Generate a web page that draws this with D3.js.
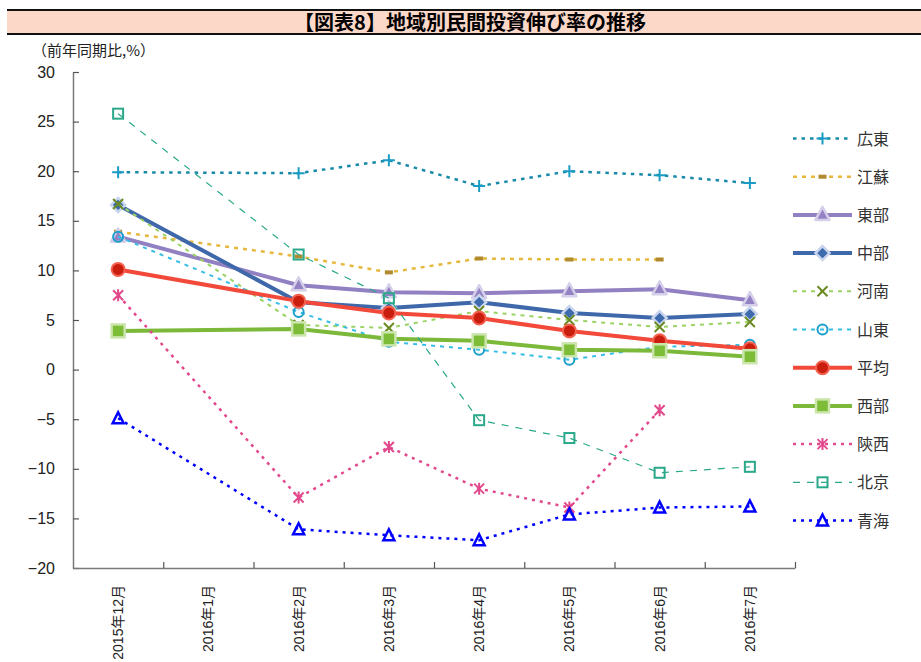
<!DOCTYPE html>
<html>
<head>
<meta charset="utf-8">
<script src="https://cdn.jsdelivr.net/npm/d3@7/dist/d3.min.js"></script>
<style>
  html, body { margin: 0; padding: 0; background: #fff; }
  svg { display: block; }
  .cjk { font-family: "Liberation Sans", "Noto Sans CJK JP", sans-serif; }
</style>
</head>
<body>
<svg id="chart" width="921" height="662"></svg>
<script>
// Months on the category axis (January has no release of its own)
const months = ["2015年12月","2016年1月","2016年2月","2016年3月","2016年4月","2016年5月","2016年6月","2016年7月"];
const yTicks = [-20, -15, -10, -5, 0, 5, 10, 15, 20, 25, 30];

// Year-on-year growth of private investment, %
const guangdong = [19.9, null, 19.8, 21.1, 18.5, 20.0, 19.6, 18.8];
const jiangsu   = [13.9, null, 11.4,  9.8, 11.2, 11.1, 11.1, null];
const eastern   = [13.4, null,  8.5,  7.8,  7.7,  7.9,  8.1,  7.0];
const central   = [16.6, null,  6.8,  6.2,  6.8,  5.7,  5.2,  5.6];
const henan     = [16.7, null,  4.5,  4.2,  5.9,  5.0,  4.3,  4.8];
const shandong  = [13.4, null,  5.8,  2.8,  2.0,  1.0,  2.3,  2.5];
const average   = [10.1, null,  6.9,  5.7,  5.2,  3.9,  2.9,  2.1];
const western   = [ 3.9, null,  4.1,  3.1,  2.9,  2.0,  1.9,  1.3];
const shaanxi   = [ 7.5, null,-12.9, -7.8,-12.0,-13.9, -4.1, null];
const beijing   = [25.8, null, 11.6,  7.2, -5.1, -6.9,-10.4, -9.8];
const qinghai   = [-4.9, null,-16.1,-16.7,-17.2,-14.6,-13.9,-13.8];

const seriesNames = ["広東","江蘇","東部","中部","河南","山東","平均","西部","陝西","北京","青海"];
const seriesValues = [guangdong, jiangsu, eastern, central, henan, shandong, average, western, shaanxi, beijing, qinghai];

// Line and marker style per series
const styles = [
  { color: "#168aa8", width: 2.5, dash: "3.5,5", marker: "plus",     mColor: "#1a9cc4" },
  { color: "#e6b83e", width: 2.5, dash: "4,5",   marker: "bar",      mColor: "#b08a2c" },
  { color: "#9180c2", width: 4,   dash: null,    marker: "triangle", mColor: "#9483c4", halo: "#d6cfea" },
  { color: "#3e68aa", width: 4,   dash: null,    marker: "diamond",  mColor: "#3e6aae", halo: "#c9d5ec" },
  { color: "#9ad263", width: 2,   dash: "4,5",   marker: "cross",    mColor: "#6b8a22" },
  { color: "#36bde6", width: 2,   dash: "4,5",   marker: "circleOpen", mColor: "#1c9ecb" },
  { color: "#f2493a", width: 4,   dash: null,    marker: "circle",   mColor: "#c91d0e", halo: "#f4614f" },
  { color: "#7cb93a", width: 4,   dash: null,    marker: "square",   mColor: "#7cbc36", halo: "#cbe5ad" },
  { color: "#e2498c", width: 2.5, dash: "3,5",   marker: "asterisk", mColor: "#e2498c" },
  { color: "#2aa88a", width: 1.2, dash: "7,7",   marker: "squareOpen", mColor: "#2aa88a" },
  { color: "#0000ff", width: 2.5, dash: "3,5",   marker: "triangleOpen", mColor: "#0000ff" }
];

const svg = d3.select("#chart");

// Title band
svg.append("rect").attr("x", 7).attr("y", 10).attr("width", 914).attr("height", 24)
  .attr("fill", "#fcd8c9");
svg.append("line").attr("x1", 7).attr("x2", 921).attr("y1", 10).attr("y2", 10)
  .attr("stroke", "#111").attr("stroke-width", 2);
svg.append("line").attr("x1", 7).attr("x2", 921).attr("y1", 34).attr("y2", 34)
  .attr("stroke", "#111").attr("stroke-width", 2);
svg.append("text").attr("x", 470).attr("y", 30).attr("text-anchor", "middle")
  .attr("font-family", "'Noto Sans CJK JP', sans-serif").attr("font-weight", "bold")
  .attr("font-size", 20).attr("fill", "#000")
  .text("【図表8】地域別民間投資伸び率の推移");

svg.append("text").attr("x", 32).attr("y", 56)
  .attr("font-family", "'Noto Sans CJK JP', sans-serif").attr("font-size", 15).attr("fill", "#222")
  .text("（前年同期比,%）");

// Scales
const plot = { left: 73, right: 795, top: 72, bottom: 568 };
const x = d3.scaleBand().domain(months).range([plot.left, plot.right]);
const xc = m => x(m) + x.bandwidth() / 2;
const y = d3.scaleLinear().domain([-20, 30]).range([plot.bottom, plot.top]);

// Y axis
const yAxis = svg.append("g").attr("transform", `translate(${plot.left},0)`)
  .call(d3.axisLeft(y).tickValues(yTicks).tickSizeInner(-6).tickSizeOuter(0).tickPadding(18));
yAxis.select(".domain").attr("stroke", "#7a7a7a").attr("stroke-width", 1.5);
yAxis.selectAll(".tick line").attr("stroke", "#555").attr("stroke-width", 1.2);
yAxis.selectAll(".tick text").attr("font-family", "'Liberation Sans', sans-serif")
  .attr("font-size", 16).attr("fill", "#222");

// X axis: ticks sit on category boundaries
const xEdge = d3.scaleLinear().domain([0, months.length]).range([plot.left, plot.right]);
const xAxis = svg.append("g").attr("transform", `translate(0,${plot.bottom})`)
  .call(d3.axisBottom(xEdge).tickValues(d3.range(1, months.length + 1))
    .tickSizeInner(-6).tickSizeOuter(0).tickFormat(""));
xAxis.select(".domain").attr("stroke", "#7a7a7a").attr("stroke-width", 1.5);
xAxis.selectAll(".tick line").attr("stroke", "#555").attr("stroke-width", 1.2);

svg.append("g").selectAll("text").data(months).join("text")
  .attr("class", "cjk")
  .attr("transform", d => `translate(${xc(d) + 5},585) rotate(-90)`)
  .attr("text-anchor", "end")
  .attr("font-size", 14).attr("fill", "#222")
  .text(d => d);

// Marker shapes
function drawMarker(g, type, st, cx, cy) {
  const m = g.append("g").attr("transform", `translate(${cx},${cy})`);
  const c = st.mColor;
  switch (type) {
    case "plus":
      m.append("path").attr("d", "M-6,0H6M0,-6V6").attr("stroke", c).attr("stroke-width", 2).attr("fill", "none");
      break;
    case "bar":
      m.append("rect").attr("x", -4).attr("y", -2).attr("width", 8).attr("height", 4).attr("fill", c);
      break;
    case "triangle":
      m.append("path").attr("d", "M0,-8L7,5H-7Z").attr("fill", c)
        .attr("stroke", st.halo).attr("stroke-width", 2.5).attr("stroke-linejoin", "round");
      break;
    case "diamond":
      m.append("path").attr("d", "M0,-7L7,0L0,7L-7,0Z").attr("fill", c)
        .attr("stroke", st.halo).attr("stroke-width", 2.5);
      break;
    case "cross":
      m.append("path").attr("d", "M-5,-5L5,5M5,-5L-5,5").attr("stroke", c).attr("stroke-width", 2).attr("fill", "none");
      break;
    case "circleOpen":
      m.append("circle").attr("r", 5).attr("fill", "none").attr("stroke", c).attr("stroke-width", 2);
      break;
    case "circle":
      m.append("circle").attr("r", 6.5).attr("fill", c).attr("stroke", st.halo).attr("stroke-width", 2);
      break;
    case "square":
      m.append("rect").attr("x", -6.5).attr("y", -6.5).attr("width", 13).attr("height", 13)
        .attr("fill", c).attr("stroke", st.halo).attr("stroke-width", 2.5);
      break;
    case "asterisk":
      m.append("path").attr("d", "M-5,-5L5,5M5,-5L-5,5M0,-6V6").attr("stroke", c).attr("stroke-width", 2).attr("fill", "none");
      break;
    case "squareOpen":
      m.append("rect").attr("x", -5).attr("y", -5).attr("width", 10).attr("height", 10)
        .attr("fill", "none").attr("stroke", c).attr("stroke-width", 2);
      break;
    case "triangleOpen":
      m.append("path").attr("d", "M0,-6L5.5,5H-5.5Z").attr("fill", "none")
        .attr("stroke", c).attr("stroke-width", 2.5).attr("stroke-linejoin", "miter");
      break;
  }
}

// Series: lines skip the missing January value and join neighbouring months directly
const line = d3.line().x(d => xc(d.m)).y(d => y(d.v));
seriesValues.forEach((vals, i) => {
  const st = styles[i];
  const pts = vals.map((v, k) => ({ m: months[k], v })).filter(d => d.v !== null);
  const g = svg.append("g");
  g.append("path").datum(pts).attr("d", line)
    .attr("fill", "none").attr("stroke", st.color).attr("stroke-width", st.width)
    .attr("stroke-dasharray", st.dash).attr("stroke-linejoin", "round");
  pts.forEach(d => drawMarker(g, st.marker, st, xc(d.m), y(d.v)));
});

// Legend
const legend = svg.append("g");
seriesNames.forEach((name, i) => {
  const st = styles[i];
  const ly = 138.5 + i * 38.2;
  const g = legend.append("g");
  g.append("line").attr("x1", 793).attr("x2", 852).attr("y1", ly).attr("y2", ly)
    .attr("stroke", st.color).attr("stroke-width", st.width).attr("stroke-dasharray", st.dash);
  drawMarker(g, st.marker, st, 822.5, ly);
  g.append("text").attr("x", 857).attr("y", ly + 6)
    .attr("font-family", "'Noto Sans CJK JP', sans-serif").attr("font-size", 16).attr("fill", "#333")
    .text(name);
});
</script>
</body>
</html>
